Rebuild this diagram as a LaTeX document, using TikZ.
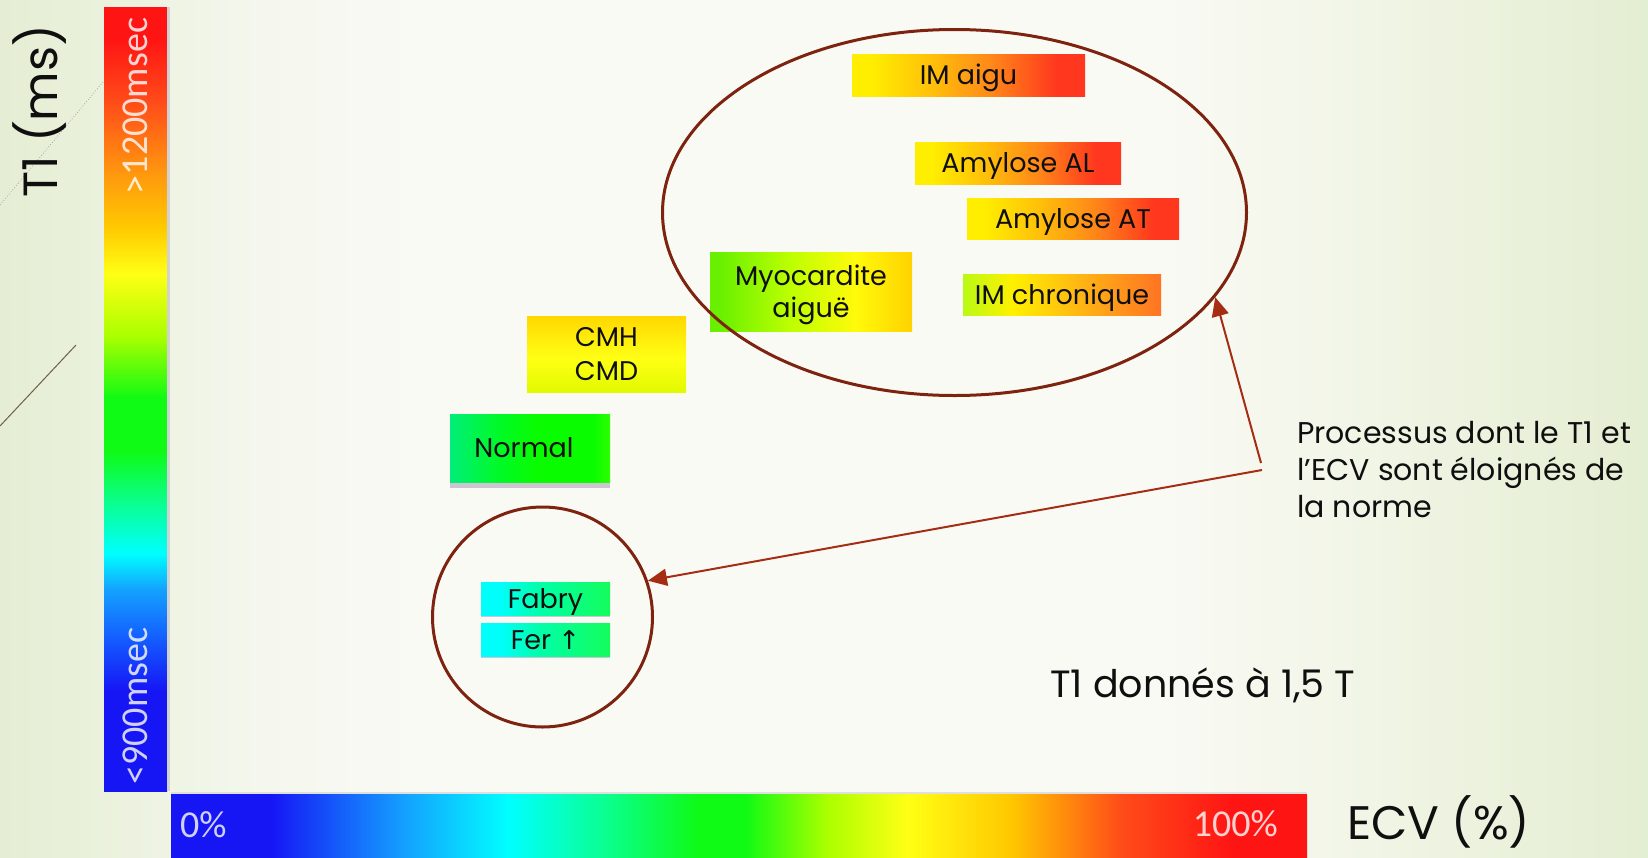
\documentclass[tikz,border=0pt]{standalone}
\usepackage{fontspec}
\setmainfont{Poppins}
\newfontfamily\barfont{Carlito}
\newfontfamily\symfont{DejaVu Sans}
\usetikzlibrary{arrows.meta,shapes.geometric}

% background
\definecolor{bgA}{RGB}{229,238,212}
\definecolor{bgB}{RGB}{234,241,220}
\definecolor{bgC}{RGB}{245,247,238}
\definecolor{bgD}{RGB}{250,250,245}
\definecolor{bgE}{RGB}{243,246,233}
\definecolor{bgF}{RGB}{228,238,210}
% spectrum
\definecolor{spBlue}{RGB}{22,22,245}
\definecolor{spMidBlue}{RGB}{20,90,255}
\definecolor{spLightBlue}{RGB}{20,160,255}
\definecolor{spCyan}{RGB}{0,255,255}
\definecolor{spSpring}{RGB}{10,255,150}
\definecolor{spGreen}{RGB}{15,250,20}
\definecolor{spLime}{RGB}{170,255,0}
\definecolor{spYellow}{RGB}{255,255,20}
\definecolor{spGold}{RGB}{255,200,0}
\definecolor{spOrange}{RGB}{255,150,15}
\definecolor{spRedOr}{RGB}{255,75,25}
\definecolor{spRed}{RGB}{255,20,20}
% boxes
\definecolor{hotA}{RGB}{255,238,0}
\definecolor{hotB}{RGB}{255,190,10}
\definecolor{hotC}{RGB}{255,135,25}
\definecolor{hotD}{RGB}{255,55,30}
\definecolor{myoA}{RGB}{105,240,0}
\definecolor{myoB}{RGB}{190,255,0}
\definecolor{myoC}{RGB}{255,250,10}
\definecolor{myoD}{RGB}{255,210,0}
\definecolor{chrA}{RGB}{185,250,20}
\definecolor{chrB}{RGB}{255,240,0}
\definecolor{chrC}{RGB}{255,180,20}
\definecolor{chrD}{RGB}{255,115,35}
\definecolor{cmhA}{RGB}{225,250,0}
\definecolor{cmhB}{RGB}{255,255,20}
\definecolor{cmhC}{RGB}{255,215,0}
\definecolor{norA}{RGB}{0,238,120}
\definecolor{norB}{RGB}{0,250,40}
\definecolor{norC}{RGB}{10,252,0}
\definecolor{norD}{RGB}{45,255,0}
\definecolor{fabA}{RGB}{0,255,250}
\definecolor{fabB}{RGB}{0,255,170}
\definecolor{fabC}{RGB}{20,252,90}
\definecolor{edgegray}{RGB}{205,198,210}
\definecolor{ellcol}{RGB}{125,35,15}
\definecolor{arrcol}{RGB}{165,45,20}
\definecolor{txt}{RGB}{15,15,15}
\definecolor{decoline}{RGB}{110,95,75}

% TikZ maps the middle half (25bp..75bp) of a declared shading onto the path
\pgfdeclarehorizontalshading{bgshade}{100bp}{color(0bp)=(bgA); color(25bp)=(bgA); color(28bp)=(bgB); color(33bp)=(bgC); color(38bp)=(bgD); color(60bp)=(bgD); color(65bp)=(bgE); color(75bp)=(bgF); color(100bp)=(bgF)}
\pgfdeclareverticalshading{vbarshade}{100bp}{color(0bp)=(spBlue); color(25bp)=(spBlue); color(31.4bp)=(spBlue); color(34.6bp)=(spMidBlue); color(37.8bp)=(spLightBlue); color(40.15bp)=(spCyan); color(43.2bp)=(spSpring); color(46.75bp)=(spGreen); color(50bp)=(spGreen); color(54bp)=(spLime); color(58bp)=(spYellow); color(61bp)=(spGold); color(64.5bp)=(spOrange); color(69bp)=(spRedOr); color(73bp)=(spRed); color(75bp)=(spRed); color(100bp)=(spRed)}
\pgfdeclarehorizontalshading{hbarshade}{100bp}{color(0bp)=(spBlue); color(25bp)=(spBlue); color(29.4bp)=(spBlue); color(35.25bp)=(spLightBlue); color(39.85bp)=(spCyan); color(43.9bp)=(spSpring); color(48.3bp)=(spGreen); color(50.25bp)=(spGreen); color(53.85bp)=(spLime); color(57.4bp)=(spYellow); color(61.95bp)=(spGold); color(66.85bp)=(spRedOr); color(71.75bp)=(spRed); color(75bp)=(spRed); color(100bp)=(spRed)}
\pgfdeclarehorizontalshading{hotshade}{100bp}{color(0bp)=(hotA); color(25bp)=(hotA); color(29bp)=(hotA); color(42.5bp)=(hotB); color(55bp)=(hotC); color(69bp)=(hotD); color(75bp)=(hotD); color(100bp)=(hotD)}
\pgfdeclarehorizontalshading{myoshade}{100bp}{color(0bp)=(myoA); color(25bp)=(myoA); color(27.5bp)=(myoA); color(45bp)=(myoB); color(61bp)=(myoC); color(75bp)=(myoD); color(100bp)=(myoD)}
\pgfdeclarehorizontalshading{chrshade}{100bp}{color(0bp)=(chrA); color(25bp)=(chrA); color(37.5bp)=(chrB); color(55bp)=(chrC); color(75bp)=(chrD); color(100bp)=(chrD)}
\pgfdeclareverticalshading{cmhshade}{100bp}{color(0bp)=(cmhA); color(25bp)=(cmhA); color(47.5bp)=(cmhB); color(75bp)=(cmhC); color(100bp)=(cmhC)}
\pgfdeclarehorizontalshading{norshade}{100bp}{color(0bp)=(norA); color(25bp)=(norA); color(40bp)=(norB); color(52.5bp)=(norC); color(70bp)=(norC); color(75bp)=(norD); color(100bp)=(norD)}
\pgfdeclarehorizontalshading{fabshade}{100bp}{color(0bp)=(fabA); color(25bp)=(fabA); color(32.5bp)=(fabA); color(47.5bp)=(fabB); color(75bp)=(fabC); color(100bp)=(fabC)}

\tikzset{
  colbox/.style={inner sep=0pt, outer sep=0pt, text=txt, align=center,
    font=\fontsize{27}{32}\selectfont, text height=19pt, text depth=0pt},
  barlabel/.style={text=white, text opacity=0.8, inner sep=0pt,
    font=\barfont\fontsize{38}{42}\selectfont},
  bigtext/.style={text=txt, inner sep=0pt, font=\fontsize{48}{56}\selectfont},
  ring/.style={draw=ellcol, line width=3pt, inner sep=0pt},
  pointer/.style={draw=arrcol, line width=2pt, -{Triangle[length=19pt,width=17pt]}},
}

\begin{document}
\begin{tikzpicture}[x=1pt,y=-1pt]
\useasboundingbox (0,0) rectangle (1648,857);
\shade[shading=bgshade] (0,0) rectangle (1648,857);

% decorative lines at left edge
\draw[gray!70, dotted, line width=0.8pt] (0,205) -- (103,82);
\draw[decoline, line width=1pt] (0,426) -- (76,345);

% colour bars
\shade[shading=vbarshade] (104,7) rectangle (167,791);
\fill[gray!35] (167,7) rectangle (170,791);
\shade[shading=hbarshade] (171,794) rectangle (1307,857);
\fill[gray!25] (171,792) rectangle (1307,794);

\node[barlabel, rotate=90, anchor=base] (tmax) at (147,106) {>1200msec};
\node[barlabel, rotate=90, anchor=base] (tmin) at (147,706) {<900msec};
\node[barlabel, anchor=base west] (emin) at (180,837) {0\%};
\node[barlabel, anchor=base east] (emax) at (1278,836) {100\%};

% axis titles
\node[bigtext, rotate=90, anchor=base] (yt) at (57,111) {T1 (ms)};
\node[bigtext, font=\fontsize{47}{54}\selectfont, anchor=base west] (xt) at (1347,839) {ECV (\%)};

% coloured boxes
\node[colbox, shading=hotshade, minimum width=233pt, minimum height=42pt] (imaigu) at (968.5,75) {IM aigu};
\node[colbox, shading=hotshade, minimum width=206pt, minimum height=42pt] (amyal) at (1018,163) {Amylose AL};
\node[colbox, shading=hotshade, minimum width=212pt, minimum height=41pt] (amyat) at (1073,218.5) {Amylose AT};
\node[colbox, text height=51pt, shading=myoshade, minimum width=202pt, minimum height=79pt] (myo) at (811,291.5) {Myocardite\\aiguë};
\node[colbox, shading=chrshade, minimum width=198pt, minimum height=41pt] (imchro) at (1062,294.5) {IM chronique};
\node[colbox, font=\fontsize{27}{34}\selectfont, text height=53pt, shading=cmhshade, minimum width=159pt, minimum height=76pt] (cmh) at (606.5,354) {CMH\\CMD};
\fill[edgegray] (450,482) rectangle (610,488);
\node[colbox, shading=norshade, minimum width=160pt, minimum height=68pt] (normal) at (530,448) {Normal\hspace*{12pt}};
\fill[edgegray] (481,615) rectangle (610,617);
\node[colbox, shading=fabshade, minimum width=129pt, minimum height=33pt] (fabry) at (545.5,598.5) {Fabry};
\fill[edgegray] (481,656) rectangle (610,658);
\node[colbox, shading=fabshade, minimum width=129pt, minimum height=33pt] (fer) at (545.5,639.5) {Fer {\symfont\fontsize{26}{28}\selectfont ↑}};

% groupings
\node[ring, ellipse, minimum width=584pt, minimum height=366pt] (bigell) at (954.5,212.5) {};
\node[ring, circle, minimum size=220pt] (smallc) at (542.5,617) {};

% annotations
\node[text=txt, inner sep=0pt, align=left, anchor=base west,
      font=\fontsize{30}{37}\selectfont] (note) at (1297,517)
  {Processus dont le T1 et\\l’ECV sont éloignés de\\la norme};
\node[text=txt, inner sep=0pt, anchor=base west,
      font=\fontsize{38}{42}\selectfont] (field) at (1050,697) {T1 donnés à 1,5 T};

% pointers
\coordinate (tailA) at (1261,463);
\coordinate (tailB) at (1262,470);
\draw[pointer] (tailA) -- (bigell.-18.6);
\draw[pointer] (tailB) -- (smallc.19);
\end{tikzpicture}
\end{document}
